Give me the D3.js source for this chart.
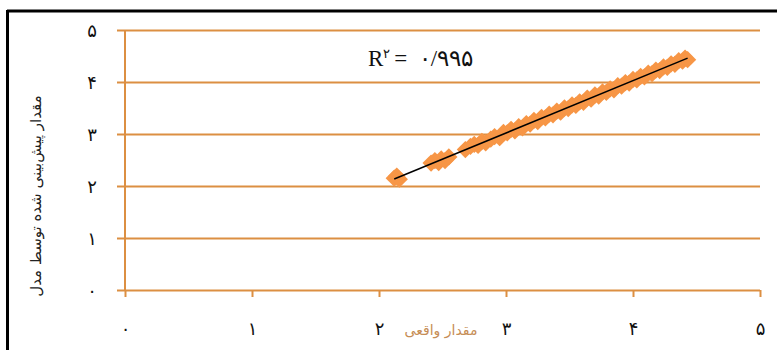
<!DOCTYPE html>
<html>
<head>
<meta charset="utf-8">
<script src="https://cdn.jsdelivr.net/npm/d3@7"></script>
<style>
  * { margin: 0; padding: 0; }
  body { width: 777px; height: 350px; background: #fff; overflow: hidden; }
</style>
</head>
<body>
<div id="chart"></div>
<script>
  let actual = [
    2.12, 2.14, 2.16,
    2.41, 2.44, 2.47, 2.49, 2.52, 2.55,
    2.68, 2.72, 2.75, 2.78, 2.81, 2.84, 2.88, 2.91, 2.95, 2.98,
    3.01, 3.04, 3.07, 3.10, 3.13, 3.16, 3.19, 3.22, 3.25, 3.28,
    3.31, 3.34, 3.37, 3.40, 3.43, 3.46, 3.49, 3.52, 3.55, 3.58,
    3.61, 3.64, 3.67, 3.70, 3.73, 3.76, 3.79, 3.82, 3.85, 3.88,
    3.91, 3.94, 3.97, 4.00, 4.03, 4.06, 4.09, 4.12, 4.15, 4.18,
    4.21, 4.24, 4.27, 4.30, 4.33, 4.36, 4.39, 4.41, 4.43
  ];
  let predicted = [
    2.15, 2.19, 2.13,
    2.44, 2.49, 2.45, 2.52, 2.49, 2.56,
    2.70, 2.76, 2.80, 2.78, 2.86, 2.83, 2.90, 2.95, 2.93, 3.03,
    3.02, 3.09, 3.06, 3.14, 3.12, 3.20, 3.19, 3.26, 3.24, 3.32,
    3.31, 3.38, 3.37, 3.44, 3.42, 3.50, 3.49, 3.56, 3.55, 3.62,
    3.61, 3.69, 3.67, 3.75, 3.73, 3.81, 3.80, 3.87, 3.85, 3.93,
    3.92, 3.99, 3.98, 4.05, 4.04, 4.11, 4.10, 4.17, 4.16, 4.23,
    4.22, 4.29, 4.28, 4.35, 4.34, 4.41, 4.40, 4.46, 4.43
  ];
  let ticks = [0, 1, 2, 3, 4, 5];
  let tickLabels = ["۰", "۱", "۲", "۳", "۴", "۵"];
  let xTitle = "مقدار واقعی";
  let yTitle = "مقدار پیش‌بینی شده توسط مدل";
  let r2Label = "۰/۹۹۵";

  let gridColor = "#dc8f42";
  let pointColor = "#f79646";

  let svg = d3.select("#chart").append("svg")
    .attr("width", 777)
    .attr("height", 350);

  // frame (top and left edges only are visible)
  svg.append("line").attr("x1", 7).attr("x2", 777).attr("y1", 11).attr("y2", 11)
    .attr("stroke", "#000").attr("stroke-width", 3);
  svg.append("line").attr("x1", 7.5).attr("x2", 7.5).attr("y1", 10).attr("y2", 350)
    .attr("stroke", "#000").attr("stroke-width", 3);

  let x = d3.scaleLinear().domain([0, 5]).range([125, 760]);
  let y = d3.scaleLinear().domain([0, 5]).range([290, 30]);

  // horizontal gridlines, extended left as ticks
  let yAxis = d3.axisLeft(y).tickValues(ticks).tickSize(-(760 - 125)).tickSizeOuter(0).tickFormat((d, i) => tickLabels[i]);
  let gy = svg.append("g").attr("transform", "translate(125,0)").call(yAxis);
  gy.select(".domain").remove();
  gy.selectAll(".tick line")
    .attr("x1", -8)
    .attr("stroke", gridColor).attr("stroke-width", 2);
  gy.selectAll(".tick text")
    .attr("x", -33)
    .attr("dy", "0.35em")
    .attr("text-anchor", "middle")
    .style("font-family", "DejaVu Sans")
    .style("font-size", "18px")
    .attr("fill", "#111");

  // y axis line
  svg.append("line")
    .attr("x1", x(0)).attr("x2", x(0)).attr("y1", y(5)).attr("y2", y(0))
    .attr("stroke", gridColor).attr("stroke-width", 2);

  // x axis
  let xAxis = d3.axisBottom(x).tickValues(ticks).tickSize(7).tickSizeOuter(0).tickFormat((d, i) => tickLabels[i]);
  let gx = svg.append("g").attr("transform", "translate(0," + y(0) + ")").call(xAxis);
  gx.select(".domain").remove();
  gx.selectAll(".tick line").attr("stroke", gridColor).attr("stroke-width", 2);
  gx.selectAll(".tick text")
    .attr("y", 45)
    .attr("dy", "0")
    .style("font-family", "DejaVu Sans")
    .style("font-size", "18px")
    .attr("fill", "#111");

  // axis titles
  svg.append("text")
    .attr("x", 441).attr("y", 335)
    .attr("text-anchor", "middle")
    .style("font-family", "DejaVu Sans")
    .style("font-size", "14px")
    .attr("fill", "#c68d55")
    .text(xTitle);

  svg.append("text")
    .attr("transform", "translate(41,196) rotate(-90)")
    .attr("text-anchor", "middle")
    .style("font-family", "DejaVu Sans")
    .style("font-size", "15px")
    .attr("fill", "#222")
    .text(yTitle);

  // points
  let pts = actual.map((a, i) => ({ a: a, p: predicted[i] }));
  let diamond = d3.symbol().type(d3.symbolDiamond2).size(190);
  svg.append("g").selectAll("path")
    .data(pts)
    .enter()
    .append("path")
    .attr("d", diamond)
    .attr("transform", d => "translate(" + x(d.a) + "," + y(d.p) + ")")
    .attr("fill", pointColor);

  // least squares trendline
  let mx = d3.mean(actual), my = d3.mean(predicted);
  let sxy = d3.sum(actual, (a, i) => (a - mx) * (predicted[i] - my));
  let sxx = d3.sum(actual, a => (a - mx) * (a - mx));
  let slope = sxy / sxx, icpt = my - slope * mx;
  let [x0, x1] = d3.extent(actual);
  svg.append("line")
    .attr("x1", x(x0)).attr("y1", y(slope * x0 + icpt))
    .attr("x2", x(x1)).attr("y2", y(slope * x1 + icpt))
    .attr("stroke", "#000").attr("stroke-width", 1.5);

  // R² label
  let r2 = svg.append("text")
    .attr("x", 368).attr("y", 66)
    .style("font-family", "Liberation Serif")
    .style("font-size", "23px")
    .attr("fill", "#111");
  r2.append("tspan").text("R");
  r2.append("tspan").attr("dy", -8).style("font-size", "13px").text("۲");
  r2.append("tspan").attr("dy", 8).attr("dx", 4).text("=  " + r2Label).style("white-space", "pre");
</script>
</body>
</html>
